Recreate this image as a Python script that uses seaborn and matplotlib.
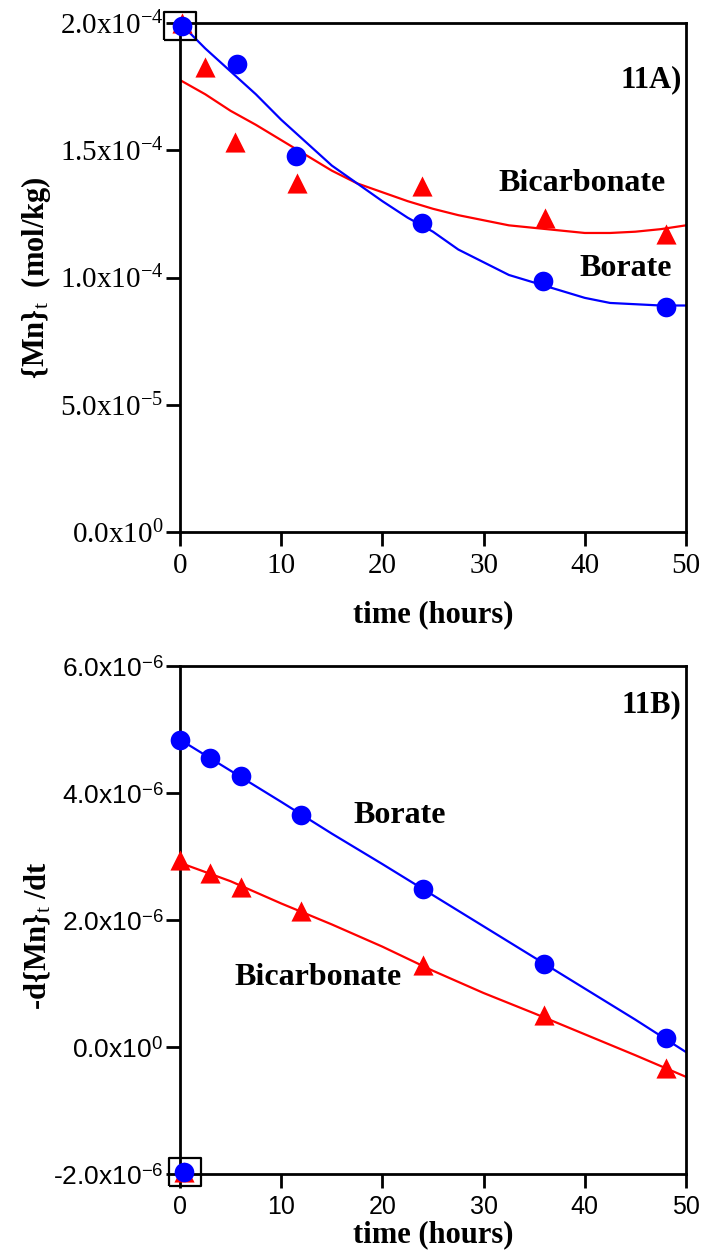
import matplotlib
matplotlib.use("Agg")
import matplotlib.pyplot as plt
import seaborn as sns

# ---- panel 11A: {Mn}t vs time ----
t_a_borate = [0.2, 5.6, 11.5, 23.9, 35.9, 48.0]
mn_a_borate = [1.99e-4, 1.839e-4, 1.477e-4, 1.214e-4, 0.986e-4, 0.884e-4]
t_a_bicarb = [0.2, 2.5, 5.4, 11.6, 23.9, 36.1, 48.0]
mn_a_bicarb = [2.00e-4, 1.828e-4, 1.534e-4, 1.371e-4, 1.36e-4, 1.234e-4, 1.17e-4]

# fitted curves
fit_t_a = [0, 2.5, 5, 7.5, 10, 12.5, 15, 17.5, 20, 22.5, 25,
           27.5, 30, 32.5, 35, 37.5, 40, 42.5, 45, 47.5, 50]
fit_a_borate = [2.00e-4, 1.90e-4, 1.81e-4, 1.72e-4, 1.62e-4, 1.53e-4, 1.44e-4,
                1.37e-4, 1.30e-4, 1.235e-4, 1.18e-4, 1.11e-4, 1.06e-4, 1.01e-4,
                0.98e-4, 0.95e-4, 0.92e-4, 0.90e-4, 0.895e-4, 0.89e-4, 0.89e-4]
fit_a_bicarb = [1.776e-4, 1.72e-4, 1.655e-4, 1.60e-4, 1.54e-4, 1.48e-4, 1.42e-4,
                1.37e-4, 1.335e-4, 1.30e-4, 1.27e-4, 1.245e-4, 1.225e-4, 1.205e-4,
                1.195e-4, 1.185e-4, 1.175e-4, 1.175e-4, 1.18e-4, 1.19e-4, 1.205e-4]

# ---- panel 11B: -d{Mn}t/dt vs time ----
t_b = [0, 3, 6, 12, 24, 36, 48]
rate_b_borate = [4.84e-6, 4.55e-6, 4.26e-6, 3.65e-6, 2.49e-6, 1.31e-6, 0.14e-6]
rate_b_bicarb = [2.94e-6, 2.74e-6, 2.52e-6, 2.14e-6, 1.29e-6, 0.50e-6, -0.33e-6]
# stray points sitting in the small box at the bottom left
t_b_stray = [0.4]
rate_b_stray = [-1.97e-6]

fit_t_b = [0, 5, 10, 15, 20, 25, 30, 35, 40, 45, 50]
fit_b_borate = [4.84e-6, 4.35e-6, 3.86e-6, 3.36e-6, 2.88e-6, 2.39e-6,
                1.90e-6, 1.41e-6, 0.92e-6, 0.43e-6, -0.08e-6]
fit_b_bicarb = [2.90e-6, 2.61e-6, 2.26e-6, 1.93e-6, 1.58e-6, 1.20e-6,
                0.85e-6, 0.53e-6, 0.20e-6, -0.13e-6, -0.47e-6]

# boxes marking the first points
box_a = (0.0, 1.99e-4)
box_b = (0.5, -1.97e-6)

x_ticks = [0, 10, 20, 30, 40, 50]
y_ticks_a = [0, 5e-5, 1e-4, 1.5e-4, 2e-4]
y_labels_a = [r"0.0x10$^{\mathregular{0}}$", r"5.0x10$^{\mathregular{-5}}$",
              r"1.0x10$^{\mathregular{-4}}$", r"1.5x10$^{\mathregular{-4}}$",
              r"2.0x10$^{\mathregular{-4}}$"]
y_ticks_b = [-2e-6, 0, 2e-6, 4e-6, 6e-6]
y_labels_b = [r"-2.0x10$^{\mathregular{-6}}$", r"0.0x10$^{\mathregular{0}}$",
              r"2.0x10$^{\mathregular{-6}}$", r"4.0x10$^{\mathregular{-6}}$",
              r"6.0x10$^{\mathregular{-6}}$"]

sns.set_style("ticks")
plt.rcParams['mathtext.fontset'] = 'custom'
plt.rcParams['mathtext.rm'] = 'Liberation Serif'
plt.rcParams['mathtext.it'] = 'Liberation Serif:italic'
plt.rcParams['mathtext.bf'] = 'Liberation Serif:bold'
plt.rcParams['text.color'] = 'black'
plt.rcParams['axes.labelcolor'] = 'black'
plt.rcParams['xtick.color'] = 'black'
plt.rcParams['ytick.color'] = 'black'
serif = ['Liberation Serif', 'DejaVu Serif']
sans = ['Liberation Sans', 'DejaVu Sans']

BLUE = '#0000ff'
RED = '#ff0000'
box_verts = [(-1, -0.86), (1, -0.86), (1, 0.86), (-1, 0.86), (-1, -0.86)]

fig = plt.figure(figsize=(7.05, 12.52), dpi=100)
ax1 = fig.add_axes([0.2553, 0.5751, 0.7177, 0.4065])
ax2 = fig.add_axes([0.2553, 0.0623, 0.7177, 0.4058])

# top panel
sns.lineplot(x=fit_t_a, y=fit_a_bicarb, color=RED, linewidth=1.6, ax=ax1)
sns.lineplot(x=fit_t_a, y=fit_a_borate, color=BLUE, linewidth=1.6, ax=ax1)
sns.scatterplot(x=t_a_bicarb, y=mn_a_bicarb, marker='^', s=210, color=RED,
                linewidth=0, ax=ax1, clip_on=False, zorder=3)
sns.scatterplot(x=t_a_borate, y=mn_a_borate, marker='o', s=200, color=BLUE,
                linewidth=0, ax=ax1, clip_on=False, zorder=4)
ax1.plot([box_a[0]], [box_a[1]], marker=box_verts, markersize=23, mfc='none',
         mec='black', mew=1.6, clip_on=False, zorder=5)

ax1.set_xlim(0, 50)
ax1.set_ylim(0, 2e-4)
ax1.set_xticks(x_ticks)
ax1.set_xticklabels([str(v) for v in x_ticks], fontfamily=serif, fontsize=21)
ax1.set_yticks(y_ticks_a)
ax1.set_yticklabels(y_labels_a, fontfamily=serif, fontsize=21)
ax1.set_xlabel("time (hours)", fontfamily=serif, fontweight='bold', fontsize=22)
ax1.set_ylabel(r"{Mn}$_{\mathrm{t}}$  (mol/kg)", fontfamily=serif,
               fontweight='bold', fontsize=22)
ax1.xaxis.set_label_coords(0.5, -0.135)
ax1.yaxis.set_label_coords(-0.25, 0.5)
ax1.text(46.6, 1.776e-4, "11A)", fontfamily=serif, fontweight='bold',
         fontsize=22, ha='center', va='center')
ax1.text(39.7, 1.371e-4, "Bicarbonate", fontfamily=serif, fontweight='bold',
         fontsize=23, ha='center', va='center')
ax1.text(44.0, 1.037e-4, "Borate", fontfamily=serif, fontweight='bold',
         fontsize=23, ha='center', va='center')

# bottom panel
sns.lineplot(x=fit_t_b, y=fit_b_bicarb, color=RED, linewidth=1.6, ax=ax2)
sns.lineplot(x=fit_t_b, y=fit_b_borate, color=BLUE, linewidth=1.6, ax=ax2)
sns.scatterplot(x=t_b + t_b_stray, y=rate_b_bicarb + rate_b_stray, marker='^',
                s=210, color=RED, linewidth=0, ax=ax2, clip_on=False, zorder=3)
sns.scatterplot(x=t_b + t_b_stray, y=rate_b_borate + rate_b_stray, marker='o',
                s=200, color=BLUE, linewidth=0, ax=ax2, clip_on=False, zorder=4)
ax2.plot([box_b[0]], [box_b[1]], marker=box_verts, markersize=23, mfc='none',
         mec='black', mew=1.6, clip_on=False, zorder=5)

ax2.set_xlim(0, 50)
ax2.set_ylim(-2e-6, 6e-6)
ax2.set_xticks(x_ticks)
ax2.set_xticklabels([str(v) for v in x_ticks], fontfamily=sans, fontsize=18)
ax2.set_yticks(y_ticks_b)
ax2.set_yticklabels(y_labels_b, fontfamily=sans, fontsize=19)
ax2.set_xlabel("time (hours)", fontfamily=serif, fontweight='bold', fontsize=22)
ax2.set_ylabel(r"-d{Mn}$_{\mathrm{t}}$ /dt", fontfamily=serif,
               fontweight='bold', fontsize=22)
ax2.xaxis.set_label_coords(0.5, -0.09)
ax2.yaxis.set_label_coords(-0.25, 0.47)
ax2.text(46.6, 5.39e-6, "11B)", fontfamily=serif, fontweight='bold',
         fontsize=22, ha='center', va='center')
ax2.text(21.7, 3.64e-6, "Borate", fontfamily=serif, fontweight='bold',
         fontsize=23, ha='center', va='center')
ax2.text(13.6, 1.09e-6, "Bicarbonate", fontfamily=serif, fontweight='bold',
         fontsize=23, ha='center', va='center')

for ax in (ax1, ax2):
    for sp in ax.spines.values():
        sp.set_linewidth(2)
        sp.set_color('black')
    ax.tick_params(direction='out', length=10, width=2, color='black',
                   labelcolor='black')
    ax.tick_params(axis='x', pad=5)
    ax.tick_params(axis='y', pad=2)
    ax.grid(False)

fig.savefig("out.png", dpi=100)
